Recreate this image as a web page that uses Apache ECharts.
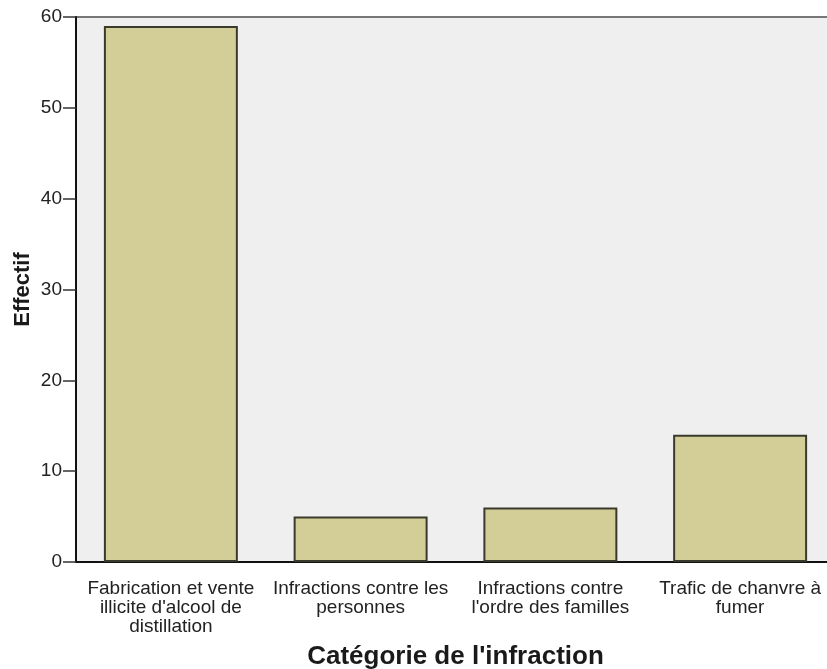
<!DOCTYPE html>
<html>
<head>
<meta charset="utf-8">
<script src="https://cdn.jsdelivr.net/npm/echarts@6/dist/echarts.min.js"></script>
<style>
    html, body { margin: 0; padding: 0; background: #fff; }
    #chart { width: 827px; height: 669px; }
</style>
</head>
<body>
<div id="chart"></div>
<script>
// catégories (retours à la ligne comme dans l'original)
var categories = [
    "Fabrication et vente\nillicite d'alcool de\ndistillation",
    "Infractions contre les\npersonnes",
    "Infractions contre\nl'ordre des familles",
    "Trafic de chanvre à\nfumer"
];
var effectifs = [59, 5, 6, 14];
var yTicks = [0, 10, 20, 30, 40, 50, 60];

var myChart = echarts.init(document.getElementById('chart'));
var option = {
    backgroundColor: '#ffffff',
    animation: false,
    grid: {
        left: 76,
        top: 17,
        width: 759,   // le cadre déborde à droite, comme sur l'original
        height: 545,
        outerBoundsMode: 'none',
        containLabel: false,
        show: true,
        backgroundColor: '#efefef',
        borderColor: '#777777',
        borderWidth: 2
    },
    xAxis: {
        type: 'category',
        data: categories,
        name: "Catégorie de l'infraction",
        nameLocation: 'middle',
        nameGap: 82,
        nameMoveOverlap: false,
        nameTextStyle: {
            fontFamily: 'Liberation Sans',
            fontWeight: 'bold',
            fontSize: 26,
            color: '#1a1a1a'
        },
        axisLine: { lineStyle: { color: '#111', width: 2 } },
        axisTick: {
            alignWithLabel: true,
            length: 12,
            lineStyle: { color: '#333', width: 1.5 }
        },
        axisLabel: {
            interval: 0,
            margin: 17,
            fontFamily: 'Liberation Sans',
            fontSize: 19,
            lineHeight: 19,
            color: '#222'
        }
    },
    yAxis: {
        type: 'value',
        min: yTicks[0],
        max: yTicks[yTicks.length - 1],
        interval: 10,
        name: 'Effectif',
        nameLocation: 'middle',
        nameGap: 42,
        nameMoveOverlap: false,
        nameTextStyle: {
            fontFamily: 'Liberation Sans',
            fontWeight: 'bold',
            fontSize: 22,
            color: '#1a1a1a'
        },
        axisLine: { show: true, lineStyle: { color: '#111', width: 2 } },
        axisTick: { show: true, length: 13, lineStyle: { color: '#333', width: 1.5 } },
        axisLabel: {
            margin: 14,
            fontFamily: 'Liberation Sans',
            fontSize: 19,
            color: '#222'
        },
        splitLine: { show: false }
    },
    series: [
        {
            type: 'bar',
            data: effectifs,
            barCategoryGap: '29.4%',
            itemStyle: {
                color: '#d3ce97',
                borderColor: '#3a3a2c',
                borderWidth: 2
            }
        }
    ]
};
myChart.setOption(option);
</script>
</body>
</html>
